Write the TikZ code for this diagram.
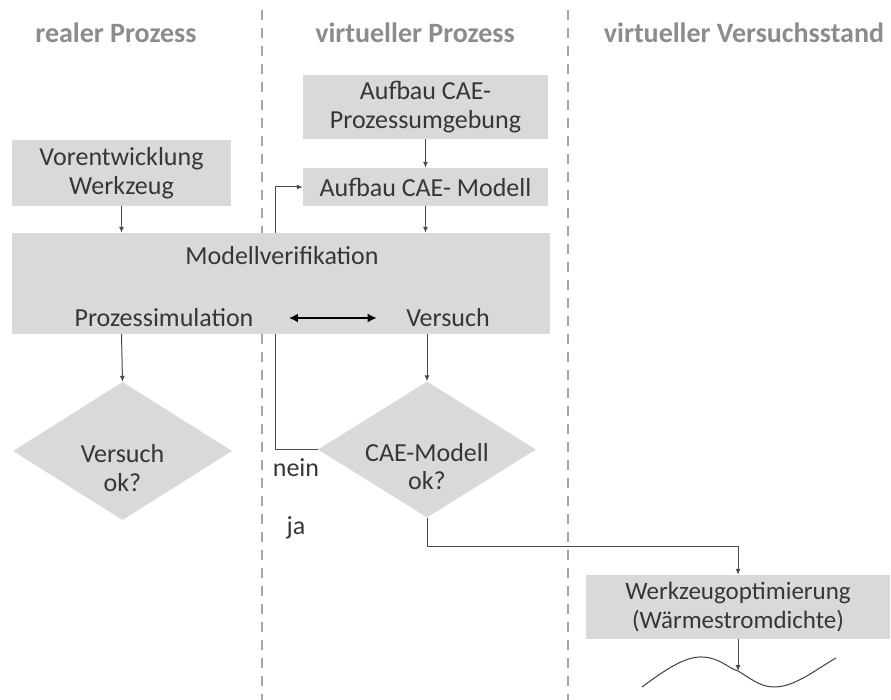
\documentclass[tikz,border=0pt]{standalone}
\usepackage{fontspec}
\setmainfont{Carlito}
\usetikzlibrary{shapes.geometric,arrows.meta}
\definecolor{boxfill}{HTML}{D9D9D9}
\definecolor{txtgray}{HTML}{363636}
\definecolor{headgray}{HTML}{8C8C8C}
\definecolor{dashgray}{HTML}{A6A6A6}
\definecolor{linegray}{HTML}{4A4A4A}
\pgfdeclarelayer{bg}
\pgfsetlayers{bg,main}

\begin{document}
\begin{tikzpicture}[x=1pt, y=-1pt,
    every node/.style={font=\fontsize{26}{28.5}\selectfont, text=txtgray, align=center},
    box/.style={fill=boxfill, inner sep=0pt},
    decision/.style={diamond, fill=boxfill, inner sep=0pt, aspect=1.59},
    head/.style={font=\fontsize{28}{30}\selectfont\bfseries, text=headgray},
    conn/.style={draw=linegray, line width=1pt, -{Latex[length=6pt,width=5pt]}},
    bidir/.style={draw=black, line width=2.2pt, {Latex[length=9pt,width=9pt]}-{Latex[length=9pt,width=9pt]}},
    lane/.style={draw=dashgray, line width=1.2pt, dash pattern=on 10pt off 8pt}]
  \useasboundingbox (0,0) rectangle (891,700);

  % Kopfzeile
  \node[head] (hreal) at (116,33) {realer Prozess};
  \node[head] (hvirt) at (415,33) {virtueller Prozess};
  \node[head] (hstand) at (744,33) {virtueller Versuchsstand};

  % Kaesten
  \node[box, minimum width=245, minimum height=64] (umg) at (425.5,107) {Aufbau CAE-\\Prozessumgebung};
  \node[box, minimum width=245, minimum height=38] (modell) at (425.5,187) {Aufbau CAE- Modell};
  \node[box, minimum width=219, minimum height=66] (vorent) at (121.5,173) {Vorentwicklung\\Werkzeug};
  \node[box, minimum width=538, minimum height=101] (verif) at (281,283.5) {};
  \node (mv) at (282,256) {Modellverifikation};
  \node (psim) at (164,318) {Prozessimulation};
  \node (vers) at (448,318) {Versuch};
  \node[box, minimum width=304, minimum height=64, font=\fontsize{25}{28.5}\selectfont] (wopt) at (738,607) {Werkzeugoptimierung\\(Wärmestromdichte)};

  % Entscheidungen
  \node[decision, minimum width=219, minimum height=138] (d1) at (122.5,451) {};
  \node (d1t) at ([yshift=-17pt]d1.center) {Versuch\\ok?};
  \node[decision, minimum width=218, minimum height=136] (d2) at (427,449.5) {};
  \node (d2t) at ([yshift=-17pt]d2.center) {CAE-Modell\\ok?};
  \node (nein) at (296,468) {nein};
  \node (ja) at (296,528) {ja};

  % Hilfspunkte
  \coordinate (nk) at (275,449.5);
  \coordinate (jk) at (738,546);
  \coordinate (wmid) at (738,671);

  % Trennlinien und Rueckfuehrung hinter den Kaesten
  \begin{pgfonlayer}{bg}
    \draw[lane] (262,10) -- (262,700);
    \draw[lane] (568,10) -- (568,700);
    \draw[conn] (d2.west) -- (nk) -- (nk |- modell.west) -- (modell.west);
  \end{pgfonlayer}

  % Pfeile
  \draw[conn] (umg.south) -- (modell.north);
  \draw[conn] (modell.south) -- (modell.south |- verif.north);
  \draw[conn] (vorent.south) -- (vorent.south |- verif.north);
  \draw[conn] (vorent.south |- verif.south) -- (d1.north);
  \draw[conn] (d2.north |- verif.south) -- (d2.north);
  \draw[conn] (d2.south) -- (d2.south |- jk) -- (jk) -- (wopt.north);
  \draw[conn] (wopt.south) -- (wmid);
  \draw[bidir, shorten <=32pt, shorten >=26pt] (psim.east) -- (vers.west);

  % Welle
  \draw[black!75, line width=1pt] (642,687) .. controls (665,670) and (685,656) .. (703,657)
    .. controls (720,658) and (728,668) .. (wmid)
    .. controls (750,678) and (760,687) .. (774,687)
    .. controls (795,687) and (815,670) .. (836,658);
\end{tikzpicture}
\end{document}
